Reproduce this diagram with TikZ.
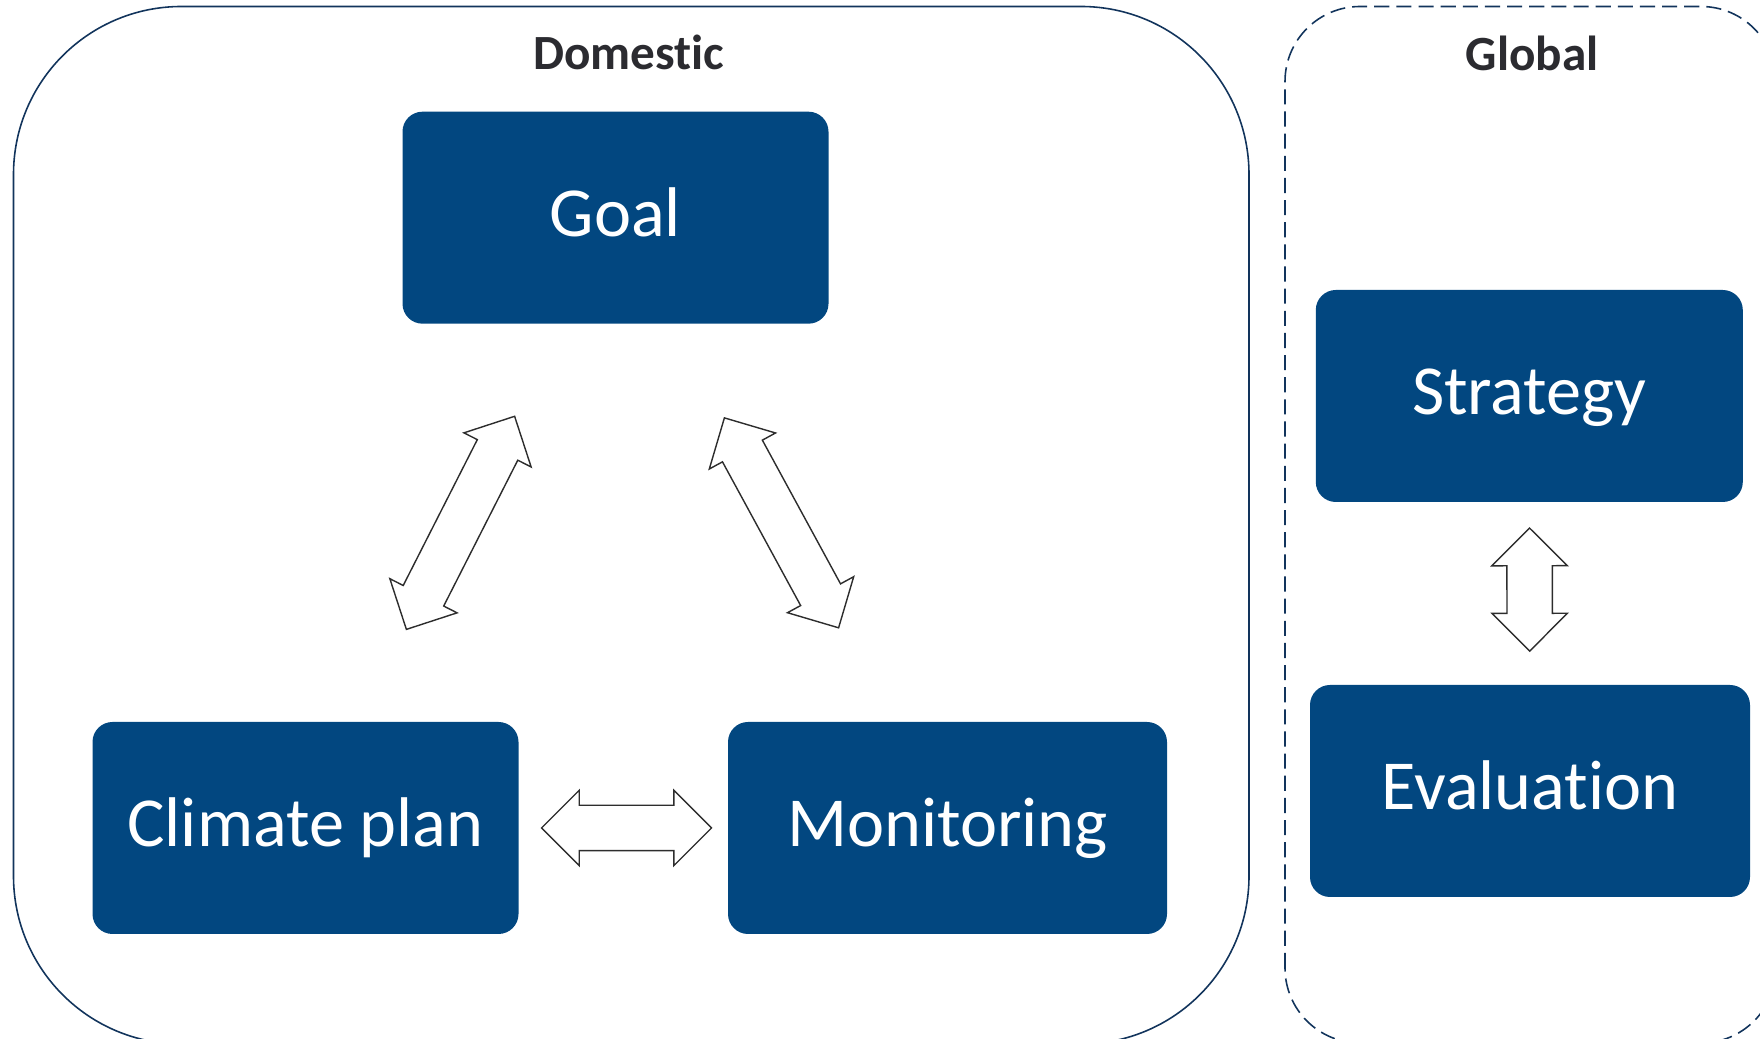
\documentclass[tikz,border=0pt]{standalone}
\usepackage{fontspec}
\setmainfont{Carlito}[Ligatures=NoCommon]
\usetikzlibrary{shapes.arrows}
\definecolor{boxblue}{RGB}{2,71,128}
\definecolor{framenavy}{RGB}{18,52,92}
\definecolor{headgray}{RGB}{43,43,48}
\definecolor{arrowgray}{RGB}{45,45,45}
\tikzset{
  stage/.style={fill=boxblue, text=white, rounded corners=0.2cm, inner sep=0pt,
    minimum height=2.12cm, font=\fontsize{20}{24}\selectfont,
    text height=14.8pt, text depth=4pt},
  heading/.style={text=headgray, anchor=base, font=\bfseries\fontsize{14}{17}\selectfont},
  dblarrow/.style={shape=double arrow, draw=arrowgray, line width=0.4pt, fill=white,
    double arrow head extend=0.15cm, minimum width=0.74cm,
    inner xsep=0pt, inner ysep=0.22cm}
}
\begin{document}
\begin{tikzpicture}
  \useasboundingbox (0,0) rectangle (17.6,10.39);
  \clip (0,0) rectangle (17.6,10.39);
  % frames
  \draw[framenavy, line width=0.45pt, rounded corners=1.68cm] (0.135,-0.05) rectangle (12.49,10.325);
  \draw[framenavy, line width=0.45pt, dash pattern=on 4.3pt off 2pt, rounded corners=0.75cm] (12.85,-0.04) rectangle (17.76,10.325);
  \node[heading] (domestic) at (6.29,9.69) {Domestic};
  \node[heading] (global) at (15.32,9.68) {Global};
  %
  \node[stage, minimum width=4.26cm] (goal) at (6.155,8.213) {Goal};
  \node[stage, minimum width=4.26cm] (plan) at (3.055,2.11) {Climate plan};
  \node[stage, minimum width=4.39cm] (monitoring) at (9.475,2.11) {Monitoring};
  \node[stage, minimum width=4.27cm] (strategy) at (15.293,6.43) {Strategy};
  \node[stage, minimum width=4.40cm] (evaluation) at (15.30,2.48) {Evaluation};
  %%%%%%%%%%%%%%%%%%%%%
  \path (plan.center) -- node[dblarrow, sloped, minimum height=2.39cm] (planGoal) {} (goal.center);
  \path (monitoring.center) -- node[dblarrow, sloped, minimum height=2.39cm] (monGoal) {} (goal.center);
  \path (plan.center) -- node[dblarrow, sloped, minimum height=1.70cm] (planMon) {} (monitoring.center);
  \path (strategy.center) -- node[dblarrow, sloped, pos=0.49, minimum height=1.23cm] (stratEval) {} (evaluation.center);
\end{tikzpicture}
\end{document}
